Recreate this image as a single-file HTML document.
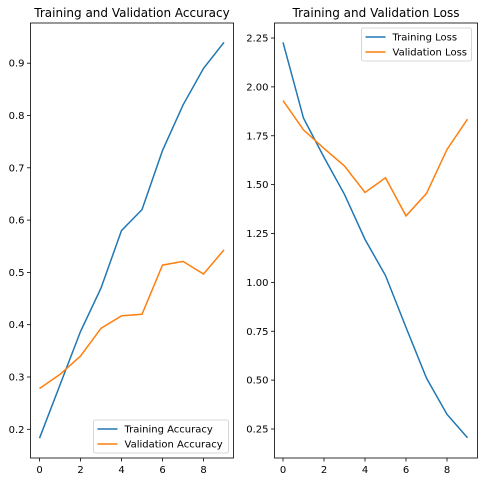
<!DOCTYPE html>
<html><head><meta charset="utf-8"><style>
body{margin:0;background:#fff}
svg{display:block;font-family:"DejaVu Sans","Liberation Sans",sans-serif}
</style></head><body>
<svg id="c" width="483" height="482" xmlns="http://www.w3.org/2000/svg"></svg>
<script>
const epochs=[0,1,2,3,4,5,6,7,8,9];
const trainAcc=[0.183,0.285,0.387,0.47,0.58,0.62,0.733,0.82,0.89,0.94];
const valAcc=[0.278,0.305,0.34,0.393,0.417,0.42,0.514,0.521,0.497,0.543];
const trainLoss=[2.228,1.84,1.64,1.45,1.22,1.035,0.77,0.51,0.325,0.205];
const valLoss=[1.93,1.78,1.685,1.595,1.46,1.535,1.34,1.455,1.68,1.835];
const xTicks=[0,2,4,6,8];
const accTicks=[0.2,0.3,0.4,0.5,0.6,0.7,0.8,0.9];
const lossTicks=[0.25,0.5,0.75,1.0,1.25,1.5,1.75,2.0,2.25];
const NS="http://www.w3.org/2000/svg";
const svg=document.getElementById('c');
function mk(t,a,p){const e=document.createElementNS(NS,t);for(const k in a)e.setAttribute(k,a[k]);(p||svg).appendChild(e);return e;}
function panel(o){
  const g=mk('g',{});
  
  
  const xs=v=>o.x0px+(v)*o.xu;
  const ys=v=>o.yRefPx+(o.yRef-v)*o.yu;
  const t=mk('text',{x:(o.L+o.R)/2,y:17,'text-anchor':'middle','font-size':12,fill:'#000'},g);t.textContent=o.title;
  
  xTicks.forEach(v=>{const x=xs(v);mk('line',{x1:x,x2:x,y1:o.B,y2:o.B+3.5,stroke:'#000','stroke-width':0.8},g);
    const l=mk('text',{x:x,y:o.B+15,'text-anchor':'middle','font-size':10,fill:'#000'},g);l.textContent=v;
    });
  o.yt.forEach(v=>{const y=ys(v);mk('line',{x1:o.L-3.5,x2:o.L,y1:y,y2:y,stroke:'#000','stroke-width':0.8},g);
    const l=mk('text',{x:o.L-6,y:y+3.5,'text-anchor':'end','font-size':10,fill:'#000'},g);l.textContent=o.fmt(v);
    });
  const series=[[o.s1,'#1f77b4',o.n1],[o.s2,'#ff7f0e',o.n2]];
  series.forEach(([d,c,n])=>{const p=mk('polyline',{points:d.map((v,i)=>xs(epochs[i])+','+ys(v)).join(' '),fill:'none',stroke:c,'stroke-width':1.5},g);
    });
  mk('rect',{x:o.L,y:o.T,width:o.R-o.L,height:o.B-o.T,fill:'none',stroke:'#000','stroke-width':0.8},g);
  const lg=mk('g',{},g);
  mk('rect',{x:o.lx,y:o.ly,width:o.lw,height:33,rx:2,fill:'#fff',stroke:'#ccc','stroke-width':0.8},lg);
  series.forEach(([d,c,n],i)=>{const y=o.ly+9+i*15;
    mk('line',{x1:o.lx+4,x2:o.lx+24,y1:y,y2:y,stroke:c,'stroke-width':1.5},lg);
    const t=mk('text',{x:o.lx+31,y:y+3.5,'font-size':10,fill:'#000'},lg);t.textContent=n;
    });
}
panel({name:'accuracy-chart',title:'Training and Validation Accuracy',L:30.5,R:233.5,T:23,B:458,
  x0px:39.5,xu:20.5,yRef:0.2,yRefPx:429.3,yu:523,yt:accTicks,fmt:v=>v.toFixed(1),
  s1:trainAcc,s2:valAcc,n1:'Training Accuracy',n2:'Validation Accuracy',lx:93.5,ly:420,lw:135});
panel({name:'loss-chart',title:'Training and Validation Loss',L:274.5,R:477.5,T:23,B:458,
  x0px:283,xu:20.5,yRef:0.25,yRefPx:429,yu:195.5,yt:lossTicks,fmt:v=>v.toFixed(2),
  s1:trainLoss,s2:valLoss,n1:'Training Loss',n2:'Validation Loss',lx:361.5,ly:28,lw:110});
</script>
</body></html>
